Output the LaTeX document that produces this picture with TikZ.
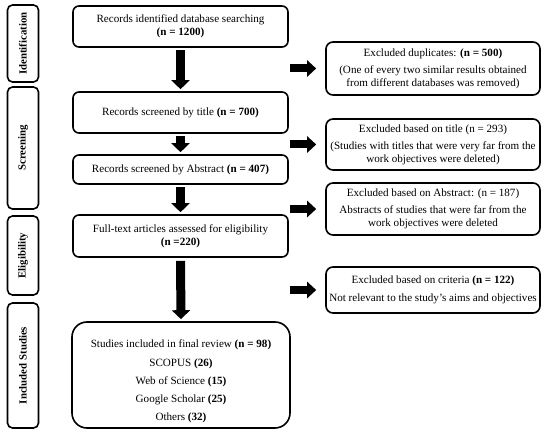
\documentclass[tikz,border=0pt]{standalone}
\usepackage{fontspec}
\setmainfont{Liberation Serif}
\usetikzlibrary{arrows.meta}
\begin{document}
\begin{tikzpicture}[x=1pt,y=-1pt,
  every node/.style={font=\fontsize{11.1}{13}\selectfont},
  mainbox/.style={draw,line width=1.6pt,rounded corners=6pt,align=center,inner sep=0pt,minimum width=215pt},
  sidebox/.style={draw,line width=1.6pt,rounded corners=7pt,align=center,inner sep=0pt,minimum width=214pt},
  phasebox/.style={draw,line width=1.6pt,rounded corners=5pt,inner sep=0pt,rotate=90,minimum height=31pt,font=\fontsize{10.8}{13}\selectfont\bfseries},
  downarrow/.style={line width=9pt,-{Triangle[length=9pt,width=18pt]}},
  rightarrow/.style={line width=8pt,-{Triangle[length=9pt,width=16pt]}}
]
\useasboundingbox (0,0) rectangle (550,435);
% phase labels
\node[phasebox,minimum width=77pt] (p1) at (23,43.5) {Identification};
\node[phasebox,minimum width=122pt] (p2) at (23,148) {Screening};
\node[phasebox,minimum width=79pt] (p3) at (23,255.5) {Eligibility};
\node[phasebox,minimum width=125pt] (p4) at (23,365.5) {Included Studies};
% main column
\node[mainbox,minimum height=41pt] (b1) at (180.5,26.5) {Records identified database searching\\\textbf{(n = 1200)}};
\node[mainbox,minimum height=41pt] (b2) at (180.5,112.5) {Records screened by title \textbf{(n = 700)}};
\node[mainbox,minimum height=29pt] (b3) at (180.5,169.5) {Records screened by Abstract \textbf{(n = 407)}};
\node[mainbox,minimum height=42pt] (b4) at (180.5,236) {Full-text articles assessed for eligibility\\\textbf{(n =220)}};
\node[mainbox,rounded corners=15pt,minimum width=218pt,minimum height=106pt] (b5) at (181,375) {};
\node[align=center,inner sep=0pt] (b5t) at ([yshift=-6pt]b5.center) {Studies included in final review \textbf{(n = 98)}\\[6pt]
  SCOPUS \textbf{(26)}\\[5pt] Web of Science \textbf{(15)}\\[5pt] Google Scholar \textbf{(25)}\\[5pt] Others \textbf{(32)}};
% side column
\node[sidebox,minimum height=53pt] (s1) at (433,68.5) {Excluded duplicates: \textbf{(n = 500)}\\[4pt](One of every two similar results obtained\\from different databases was removed)};
\node[sidebox,minimum height=51pt] (s2) at (433,144.5) {Excluded based on title (n = 293)\\[4pt](Studies with titles that were very far from the\\work objectives were deleted)};
\node[sidebox,minimum height=52pt] (s3) at (433,209) {Excluded based on Abstract: (n = 187)\\[4pt]Abstracts of studies that were far from the\\work objectives were deleted};
\node[sidebox,minimum height=46pt] (s4) at (433,290) {Excluded based on criteria \textbf{(n = 122)}\\[5pt]Not relevant to the study's aims and objectives};
% down arrows
\draw[downarrow] ([yshift=-2pt]b1.south) -- ([yshift=2pt]b2.north);
\draw[downarrow] ([yshift=-2pt]b2.south) -- ([yshift=2pt]b3.north);
\draw[downarrow] ([yshift=-2pt]b3.south) -- ([yshift=2pt]b4.north);
\draw[downarrow] ([yshift=-3pt]b4.south) -- ([yshift=2pt]b5.north);
% right arrows
\draw[rightarrow] ([xshift=1pt]b1.east |- s1.west) -- ([xshift=-9pt]s1.west);
\draw[rightarrow] ([xshift=1pt]b2.east |- s2.west) -- ([xshift=-9pt]s2.west);
\draw[rightarrow] ([xshift=1pt]b3.east |- s3.west) -- ([xshift=-9pt]s3.west);
\draw[rightarrow] ([xshift=1pt]b4.east |- s4.west) -- ([xshift=-9pt]s4.west);
\end{tikzpicture}
\end{document}
